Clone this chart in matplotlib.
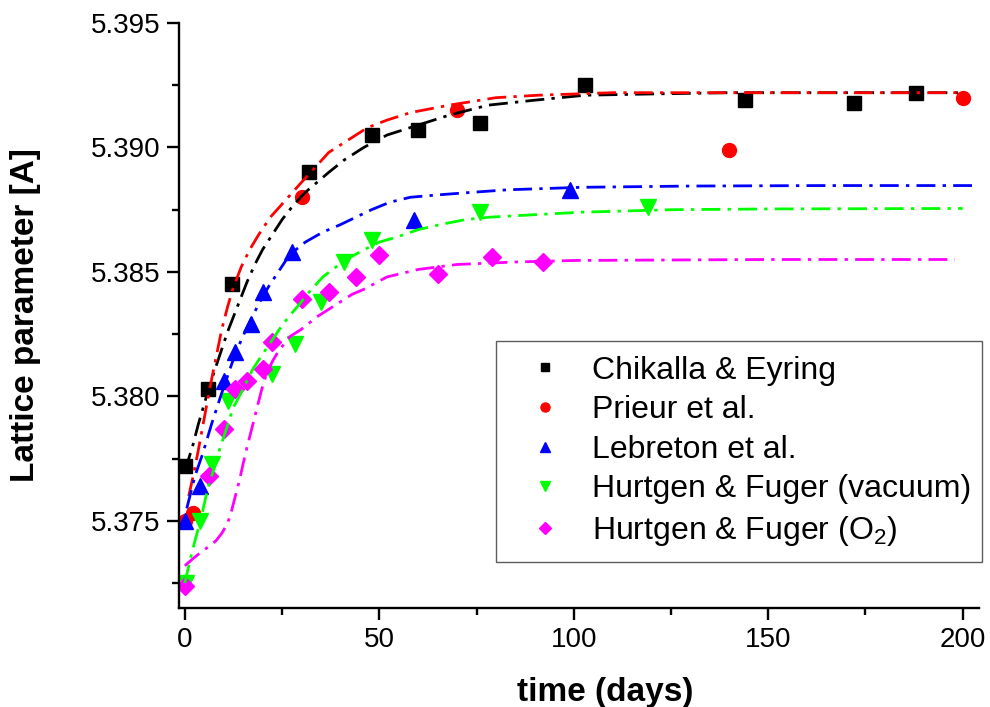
import matplotlib
matplotlib.use("Agg")
import matplotlib.pyplot as plt
from matplotlib.ticker import MultipleLocator, FormatStrFormatter

plt.rcParams['font.family'] = ['Liberation Sans', 'DejaVu Sans']
plt.rcParams['mathtext.default'] = 'regular'

# ---- data ----
chik_x = [0, 6, 12, 32, 48, 60, 76, 103, 144, 172, 188]
chik_y = [5.3772, 5.3803, 5.3845, 5.3890, 5.3905, 5.3907, 5.3910, 5.3925, 5.3919, 5.3918, 5.3922]

prieur_x = [0, 2, 30, 70, 140, 200]
prieur_y = [5.3750, 5.3753, 5.3880, 5.3915, 5.3899, 5.3920]

lebreton_x = [0, 4, 10, 13, 17, 20, 27.5, 59, 99]
lebreton_y = [5.3750, 5.3764, 5.3806, 5.3818, 5.3829, 5.3842, 5.3858, 5.3871, 5.3883]

hfvac_x = [0.3, 4, 7, 11, 22.5, 28.3, 35, 41, 48, 76, 119]
hfvac_y = [5.3725, 5.3750, 5.3773, 5.3798, 5.3809, 5.3821, 5.3838, 5.3854, 5.3863, 5.3874, 5.3876]

hfo2_x = [0, 6.2, 10, 13, 16, 20, 22.3, 30, 37, 44, 50, 65, 79, 92]
hfo2_y = [5.3724, 5.3768, 5.3787, 5.3803, 5.3806, 5.3811, 5.3822, 5.3839, 5.3842, 5.3848, 5.3857, 5.3849, 5.3856, 5.3854]

# fitted curves (traced points)
fit_chik_x = [0, 1, 2, 3.5, 5, 6.5, 8, 9.5, 11, 12.5, 14, 16, 18, 20, 22.5, 25, 28, 31, 34, 37,
              41, 46, 52, 60, 68, 78, 90, 103, 120, 140, 170, 200]
fit_chik_y = [5.3770, 5.3775, 5.3780, 5.3789, 5.3797, 5.3805, 5.3812, 5.3819, 5.3826, 5.3832,
              5.3838, 5.3846, 5.3853, 5.3859, 5.3865, 5.3871, 5.3877, 5.3882, 5.3886, 5.3890,
              5.3895, 5.3900, 5.3905, 5.3909, 5.3913, 5.3917, 5.3919, 5.3921, 5.39215, 5.3922,
              5.3922, 5.3922]

fit_prieur_x = [1, 2, 3.3, 4.6, 5.8, 6.9, 8.2, 9.5, 11, 12.3, 14.5, 16.7, 19, 22, 26, 30, 33.5,
                37, 42, 47, 52, 58, 68, 80, 91, 110, 140, 200]
fit_prieur_y = [5.3760, 5.3767, 5.3777, 5.3788, 5.3798, 5.3807, 5.3817, 5.3827, 5.3836, 5.3843,
                5.3852, 5.3859, 5.3865, 5.3872, 5.3879, 5.3886, 5.3892, 5.3898, 5.3903, 5.3908,
                5.3911, 5.3914, 5.3917, 5.3920, 5.3921, 5.3922, 5.3922, 5.3922]

fit_leb_x = [0.5, 2.6, 4.6, 6.9, 9.2, 11.6, 13.2, 14.9, 17, 19.3, 21.5, 23.6, 27, 31, 35.5, 40,
             44, 48, 52.7, 58, 65.5, 74, 83, 102, 130, 165, 203]
fit_leb_y = [5.3755, 5.3768, 5.3777, 5.3789, 5.3800, 5.3811, 5.3818, 5.3824, 5.3831, 5.3838,
             5.3844, 5.3849, 5.3857, 5.3862, 5.3866, 5.3869, 5.3872, 5.3875, 5.3878, 5.3880,
             5.3881, 5.3882, 5.3883, 5.3884, 5.38845, 5.38847, 5.38847]

fit_vac_x = [0, 1.3, 2.6, 4, 5.9, 7.5, 9, 10.7, 12.3, 15, 17.5, 20, 22.6, 25.2, 27.8, 30, 32,
             35.5, 38, 41.5, 45, 50, 54.5, 60, 65.6, 72, 78.4, 90, 102, 125, 150, 200]
fit_vac_y = [5.3725, 5.3734, 5.3742, 5.3750, 5.3763, 5.3771, 5.3779, 5.3787, 5.3795, 5.3803,
             5.3811, 5.3817, 5.3823, 5.3829, 5.3834, 5.3838, 5.3842, 5.3848, 5.3851, 5.3855,
             5.3858, 5.3862, 5.3864, 5.3867, 5.3869, 5.3871, 5.3872, 5.3873, 5.3874, 5.3875,
             5.38753, 5.38755]

fit_o2_x = [0, 3, 6.4, 8, 9.5, 11, 12, 13, 14, 15, 15.9, 17.2, 18.5, 19.8, 21, 22.5, 24, 27,
            30, 34, 37, 40, 43, 46, 52, 60, 70, 85, 100, 150, 198]
fit_o2_y = [5.3732, 5.3736, 5.3740, 5.3742, 5.3745, 5.3749, 5.3754, 5.3760, 5.3766, 5.3773,
            5.3779, 5.3787, 5.3795, 5.3803, 5.3809, 5.3814, 5.3818, 5.3824, 5.3827, 5.3832,
            5.3835, 5.3838, 5.3841, 5.3843, 5.3848, 5.3851, 5.3853, 5.3854, 5.38546, 5.3855,
            5.3855]

labels = ["Chikalla & Eyring", "Prieur et al.", "Lebreton et al.",
          "Hurtgen & Fuger (vacuum)", "Hurtgen & Fuger (O$_2$)"]
colors = ["#000000", "#FF0000", "#0000FF", "#00FF00", "#FF00FF"]
markers = ["s", "o", "^", "v", "D"]
msizes = [9.5, 10, 11.5, 11.5, 9]

fig = plt.figure(figsize=(9.9, 7.07), dpi=100)
ax = fig.add_axes([179/990, 1 - 608/707, 800/990, 585/707])

dash = (6.8, 2.6, 1.2, 2.6)
fits = [(fit_chik_x, fit_chik_y), (fit_prieur_x, fit_prieur_y), (fit_leb_x, fit_leb_y),
        (fit_vac_x, fit_vac_y), (fit_o2_x, fit_o2_y)]
pts = [(chik_x, chik_y), (prieur_x, prieur_y), (lebreton_x, lebreton_y),
       (hfvac_x, hfvac_y), (hfo2_x, hfo2_y)]

for (px, py), c, m, ms, lab in zip(pts, colors, markers, msizes, labels):
    ax.plot(px, py, ls='none', marker=m, ms=ms, color=c, mec=c, label=lab, zorder=2)
for (fx, fy), c in zip(fits, colors):
    ax.plot(fx, fy, color=c, lw=2.0, dashes=dash, zorder=3)

ax.set_xlim(-1.5, 204.2)
ax.set_ylim(5.3715, 5.395)

for s in ['top', 'right']:
    ax.spines[s].set_visible(False)
for s in ['left', 'bottom']:
    ax.spines[s].set_linewidth(1.7)

ax.xaxis.set_major_locator(MultipleLocator(50))
ax.xaxis.set_minor_locator(MultipleLocator(25))
ax.yaxis.set_major_locator(MultipleLocator(0.005))
ax.yaxis.set_minor_locator(MultipleLocator(0.0025))
ax.yaxis.set_major_formatter(FormatStrFormatter('%.3f'))
ax.tick_params(which='major', length=8.5, width=1.7, labelsize=20, pad=5)
ax.tick_params(which='minor', length=4.8, width=1.7)

ax.set_xlabel("time (days)", fontsize=24, fontweight='bold')
ax.set_ylabel("Lattice parameter [A]", fontsize=24, fontweight='bold')
ax.xaxis.set_label_coords(0.5325, -0.118)
ax.yaxis.set_label_coords(-0.172, 0.5)

leg = ax.legend(loc='upper left', bbox_to_anchor=(0.396, 0.456, 0.608, 0.0),
                mode='expand', borderaxespad=0, fontsize=23, markerscale=0.65,
                frameon=True, fancybox=False, handletextpad=0.35, labelspacing=0.3,
                borderpad=0.45, handlelength=2.2)
leg.get_frame().set_edgecolor('#333333')
leg.get_frame().set_linewidth(1.0)

fig.savefig("out.png", dpi=100)
